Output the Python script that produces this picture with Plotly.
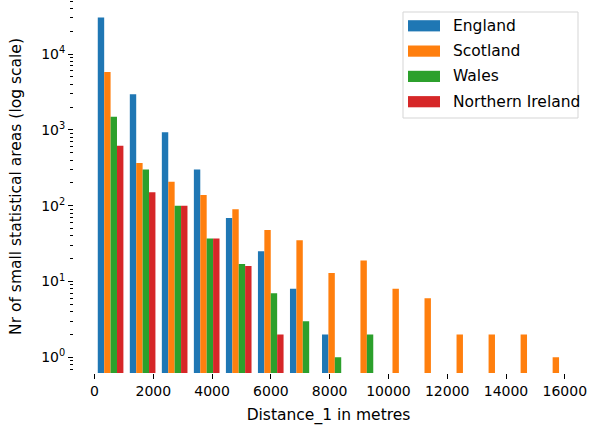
import numpy as np
import plotly.graph_objects as go

# Histogram of Distance_1, 15 equal-width bins starting at 0
bin_width = 1090
n_bins = 15
bin_centers = [(i + 0.5) * bin_width for i in range(n_bins)]

england = [30500, 2950, 930, 300, 69, 25, 8, 2, 0, 0, 0, 0, 0, 0, 0]
scotland = [5800, 366, 207, 138, 90, 48, 35, 13, 19, 8, 6, 2, 2, 2, 1]
wales = [1490, 300, 100, 37, 17, 7, 3, 1, 2, 0, 0, 0, 0, 0, 0]
northern_ireland = [620, 150, 100, 37, 16, 2, 0, 0, 0, 0, 0, 0, 0, 0, 0]

series_names = ["England", "Scotland", "Wales", "Northern Ireland"]
series_counts = [england, scotland, wales, northern_ireland]
series_colors = ["#1f77b4", "#ff7f0e", "#2ca02c", "#d62728"]

x_tick_vals = [0, 2000, 4000, 6000, 8000, 10000, 12000, 14000, 16000]
x_tick_text = [str(v) for v in x_tick_vals]
y_tick_vals = [1, 10, 100, 1000, 10000]
y_tick_text = ["10<sup>0</sup>", "10<sup>1</sup>", "10<sup>2</sup>",
               "10<sup>3</sup>", "10<sup>4</sup>"]

font_family = "DejaVu Sans"
tick_size = 14
label_size = 15.5
W, H = 590, 433
M_L, M_R, M_T, M_B = 74, 7, 0, 60
plot_w = W - M_L - M_R
plot_h = H - M_T - M_B


def px_x(px):
    return (px - M_L) / plot_w


def px_y(py):
    return (H - M_B - py) / plot_h


fig = go.Figure()
for name, counts, color in zip(series_names, series_counts, series_colors):
    fig.add_trace(go.Bar(
        x=bin_centers,
        y=[c if c > 0 else None for c in counts],
        name=name,
        marker=dict(color=color, line=dict(width=0)),
        showlegend=False,
    ))

# Legend box with wide colour patches
shapes = [dict(
    type="rect", xref="paper", yref="paper",
    x0=px_x(403), x1=px_x(578), y0=px_y(118), y1=px_y(12),
    fillcolor="rgba(255,255,255,0.8)", line=dict(color="#d5d5d5", width=1),
    layer="above",
)]
annotations = []
row_h = 25.3
for i, (name, color) in enumerate(zip(series_names, series_colors)):
    cy = 25.8 + i * row_h
    shapes.append(dict(
        type="rect", xref="paper", yref="paper",
        x0=px_x(408), x1=px_x(440), y0=px_y(cy + 5.6), y1=px_y(cy - 5.6),
        fillcolor=color, line=dict(width=0), layer="above",
    ))
    annotations.append(dict(
        text=name, xref="paper", yref="paper",
        x=px_x(451), y=px_y(cy), xanchor="left", yanchor="middle",
        showarrow=False,
        font=dict(size=label_size, color="black", family=font_family),
    ))

fig.update_layout(
    width=W,
    height=H,
    margin=dict(l=M_L, r=M_R, t=M_T, b=M_B),
    paper_bgcolor="white",
    plot_bgcolor="white",
    barmode="group",
    bargap=0.2,
    bargroupgap=0,
    font=dict(family=font_family, size=tick_size, color="black"),
    shapes=shapes,
    annotations=annotations,
    xaxis=dict(
        range=[-700, 16620],
        tickvals=x_tick_vals,
        ticktext=x_tick_text,
        tickfont=dict(size=tick_size, color="black", family=font_family),
        ticks="outside", ticklen=5, tickwidth=1, tickcolor="black",
        showgrid=False, zeroline=False, showline=False,
        title=dict(text="Distance_1 in metres", standoff=11,
                   font=dict(size=label_size, color="black", family=font_family)),
    ),
    yaxis=dict(
        type="log",
        range=[-0.207, 4.714],
        tickvals=y_tick_vals,
        ticktext=y_tick_text,
        tickfont=dict(size=tick_size, color="black", family=font_family),
        ticks="outside", ticklen=5, tickwidth=1, tickcolor="black",
        minor=dict(ticks="outside", ticklen=3, tickwidth=0.8,
                   tickcolor="black", dtick="D1", showgrid=False),
        showgrid=False, zeroline=False, showline=False,
        title=dict(text="Nr of small statistical areas (log scale)", standoff=15,
                   font=dict(size=label_size, color="black", family=font_family)),
    ),
)

fig.write_html("out.html")
